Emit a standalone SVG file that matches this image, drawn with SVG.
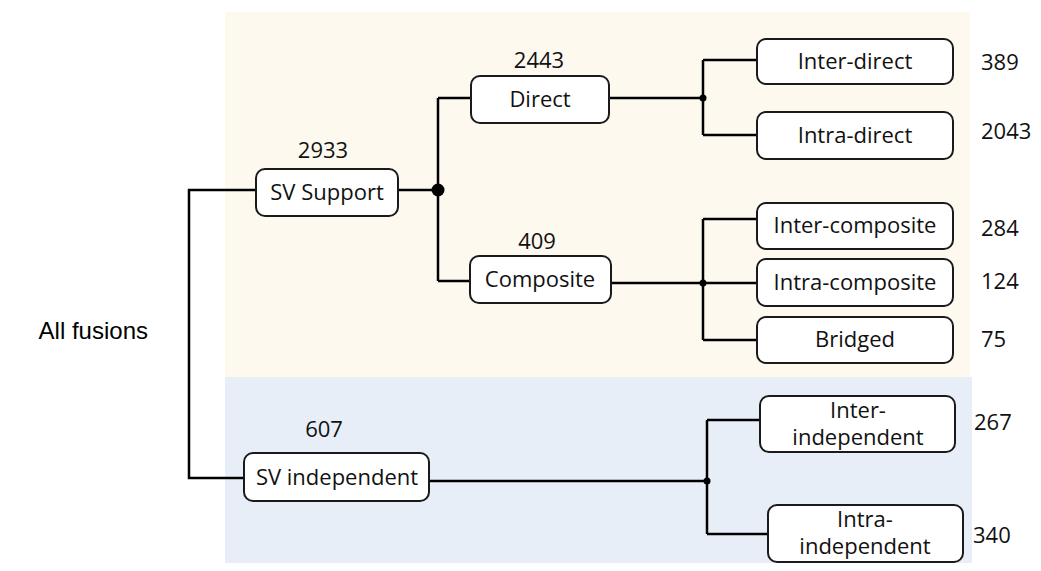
<svg xmlns="http://www.w3.org/2000/svg" width="1041" height="571" viewBox="0 0 1041 571">
<style>
.box{fill:#ffffff;stroke:#1a1a1a;stroke-width:2}
.t{font-family:"Open Sans","Noto Sans","DejaVu Sans",sans-serif;font-size:22px;fill:#111;text-anchor:middle}
.n{font-family:"Open Sans","Noto Sans","DejaVu Sans",sans-serif;font-size:22px;fill:#111}
.c{fill:none;stroke:#000;stroke-width:2.5}
</style>
<rect x="0" y="0" width="1041" height="571" fill="#ffffff"/>
<rect x="225" y="12" width="745" height="365" fill="#fdf9ef"/>
<rect x="225" y="377" width="747" height="186" fill="#e8eef8"/>
<text x="148" y="339" font-family="Liberation Sans, Arial, sans-serif" font-size="24" fill="#000" text-anchor="end">All fusions</text>
<g id="connectors">
<path class="c" d="M256,190 H189 V478 H244"/>
<path class="c" d="M398,190 H438 M438,98 V281 M438,98 H471 M438,281 H470"/>
<circle cx="438" cy="190" r="6.5" fill="#000"/>
<path class="c" d="M609,98 H703 M703,60 V135 M703,60 H757 M703,135 H757"/>
<circle cx="703" cy="98" r="3.5" fill="#000"/>
<path class="c" d="M611,283 H757 M703,219 V340 M703,219 H757 M703,340 H757"/>
<circle cx="703" cy="283" r="3.5" fill="#000"/>
<path class="c" d="M429,481 H707 M707,420 V534 M707,420 H760 M707,534 H768"/>
<circle cx="707" cy="481" r="3.5" fill="#000"/>
</g>
<g id="sv-support">
<rect class="box" x="256" y="169" width="142" height="47" rx="9"/>
<text class="t" x="327" y="200">SV Support</text>
<text class="t" x="323" y="158">2933</text>
</g>
<g id="direct">
<rect class="box" x="471" y="76" width="138" height="47" rx="9"/>
<text class="t" x="540" y="107">Direct</text>
<text class="t" x="539" y="68">2443</text>
</g>
<g id="composite">
<rect class="box" x="470" y="256" width="141" height="47" rx="9"/>
<text class="t" x="540" y="287">Composite</text>
<text class="t" x="537" y="249">409</text>
</g>
<g id="inter-direct">
<rect class="box" x="757" y="39" width="196" height="45" rx="9"/>
<text class="t" x="855" y="69">Inter-direct</text>
<text class="n" x="981" y="70">389</text>
</g>
<g id="intra-direct">
<rect class="box" x="757" y="112" width="196" height="47" rx="9"/>
<text class="t" x="855" y="143">Intra-direct</text>
<text class="n" x="981" y="139">2043</text>
</g>
<g id="inter-composite">
<rect class="box" x="757" y="203" width="196" height="46" rx="9"/>
<text class="t" x="855" y="233">Inter-composite</text>
<text class="n" x="981" y="236">284</text>
</g>
<g id="intra-composite">
<rect class="box" x="757" y="259" width="196" height="47" rx="9"/>
<text class="t" x="855" y="290">Intra-composite</text>
<text class="n" x="981" y="289">124</text>
</g>
<g id="bridged">
<rect class="box" x="757" y="317" width="196" height="46" rx="9"/>
<text class="t" x="855" y="347">Bridged</text>
<text class="n" x="981" y="347">75</text>
</g>
<g id="sv-independent">
<rect class="box" x="244" y="453" width="185" height="48" rx="9"/>
<text class="t" x="337" y="485">SV independent</text>
<text class="t" x="324" y="437">607</text>
</g>
<g id="inter-independent">
<rect class="box" x="760" y="396" width="195" height="56" rx="9"/>
<text class="t" x="858" y="418">Inter-</text>
<text class="t" x="858" y="445">independent</text>
<text class="n" x="974" y="430">267</text>
</g>
<g id="intra-independent">
<rect class="box" x="768" y="505" width="195" height="57" rx="9"/>
<text class="t" x="865" y="527">Intra-</text>
<text class="t" x="865" y="554">independent</text>
<text class="n" x="973" y="543">340</text>
</g>
</svg>
